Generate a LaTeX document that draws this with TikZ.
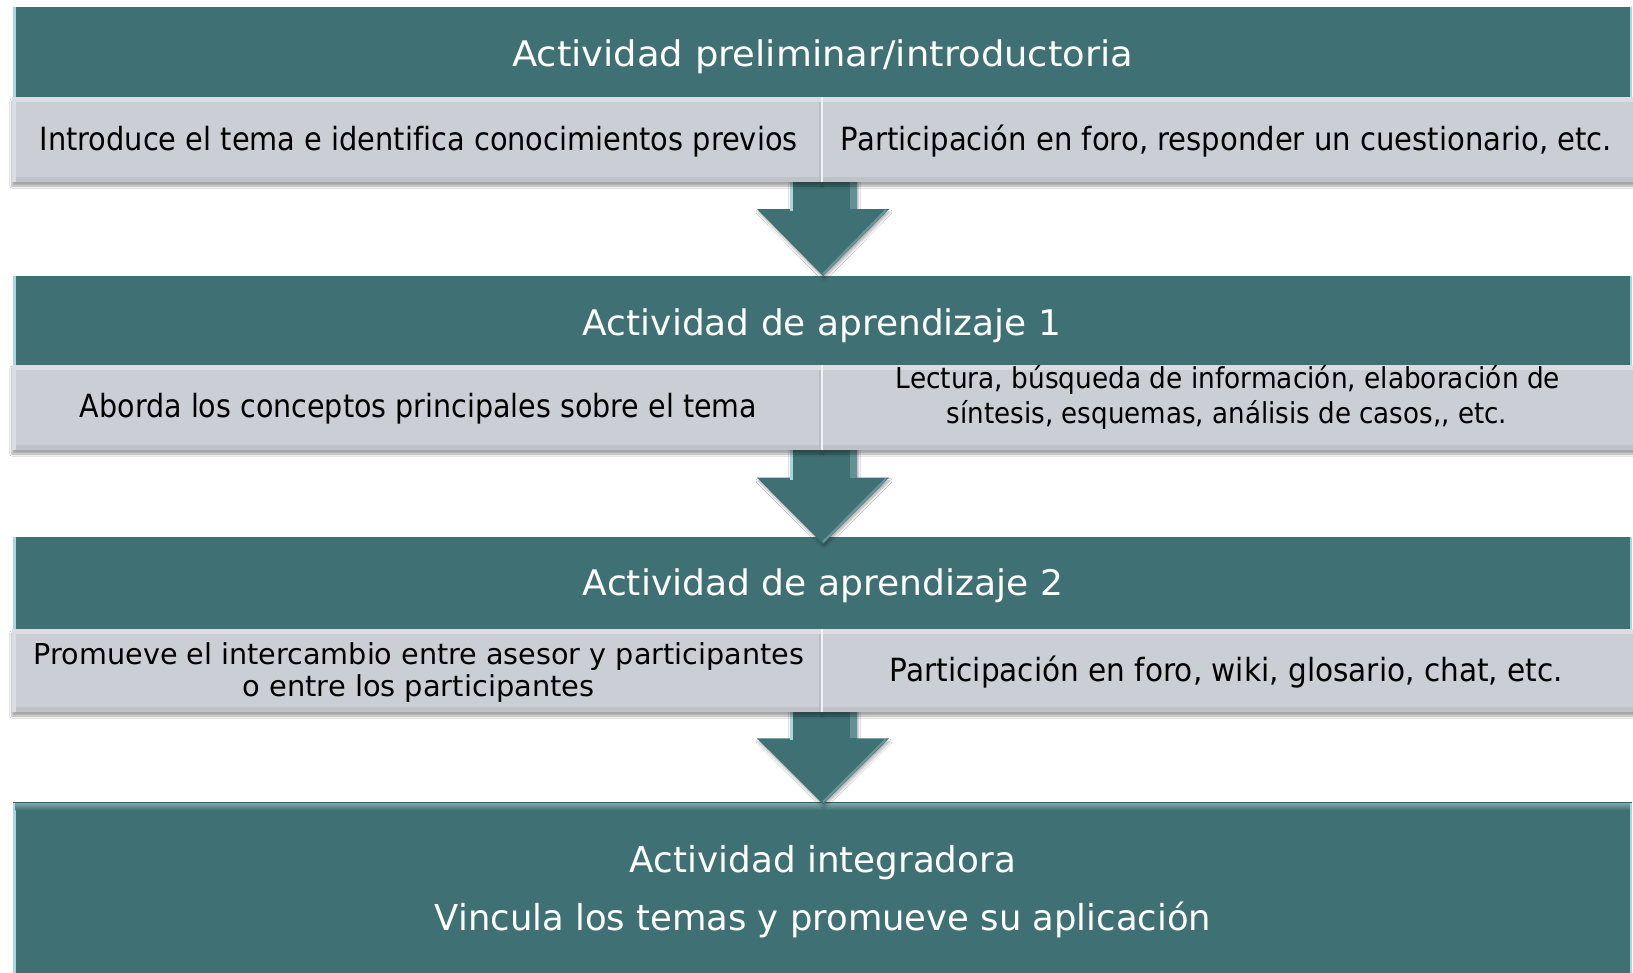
\documentclass[tikz,border=0pt]{standalone}
\usepackage{fontspec}
\setmainfont{DejaVu Sans}[Ligatures={NoCommon}]
\usepackage{graphicx}
\usetikzlibrary{shadows.blur}
\definecolor{tealc}{HTML}{3F7174}
\definecolor{grayc}{HTML}{CBCFD5}
\definecolor{grayhi}{HTML}{DADDE2}
\definecolor{graylo}{HTML}{B8BCC2}
\definecolor{tealhi}{HTML}{A8D8DC}
\definecolor{teallt}{HTML}{86AFB2}
\definecolor{tealdk}{HTML}{35605F}
\newcommand\fittext[3]{\resizebox{#1pt}{#2pt}{\vphantom{H}\smash{#3}}}
\begin{document}
\begin{tikzpicture}[x=1pt,y=-1pt,
  band/.style={fill=tealc},
  cell/.style={fill=grayc, blur shadow={shadow xshift=0pt, shadow yshift=-4pt, shadow blur steps=6, shadow opacity=35}},
  arrowshape/.style={fill=tealc, blur shadow={shadow xshift=1pt, shadow yshift=-3pt, shadow blur steps=6, shadow opacity=30}},
  hdr/.style={text=white, inner sep=0pt, anchor=center},
  txt/.style={text=black, inner sep=0pt, anchor=center},
  divider/.style={draw=white!70!grayc, line width=2pt}]
\clip (0,0) rectangle (1633,972);
\fill[white] (0,0) rectangle (1633,972);

% teal bands
\foreach \t/\b in {7/97, 276/364.5, 537/629, 802/990}{
  \fill[band] (13,\t) rectangle (1632,\b);
  \fill[tealhi] (13,\t) rectangle (15.5,\b);
  \fill[tealhi] (1629.5,\t) rectangle (1632,\b);
}
\shade[top color=teallt, bottom color=tealc] (15.5,802) rectangle (1629.5,810);
\draw[tealdk, line width=1pt] (13,802) -- (1632,802);

% arrows
\foreach \s/\h/\p in {175/209/276, 443/477.7/544, 705/738.3/804}{
  \fill[arrowshape] (790,\s) -- (857,\s) -- (857,\h) -- (889,\h) -- (823,\p) -- (757,\h) -- (790,\h) -- cycle;
  \fill[tealhi] (790,\s) rectangle (793,\h+2);
  \fill[teallt, opacity=0.5] (850,\s) rectangle (857,\h);
  \draw[teallt, line width=2pt, opacity=0.6] (886,\h+1) -- (823,\p-2);
}

% gray rows
\foreach \t/\b in {97/182, 364.5/450, 629/712}{
  \fill[cell] (12,\t) rectangle (822,\b);
  \fill[cell] (822,\t) rectangle (1645,\b);
  \fill[grayhi] (12,\t) rectangle (1645,\t+5);
  \fill[graylo, opacity=0.6] (12,\b-5) rectangle (1645,\b);
  \fill[grayhi] (12,\t) rectangle (16,\b);
  \draw[divider] (822,\t) -- (822,\b);
}

% texts
\node[hdr] (t1) at (822.6,54) {\fittext{621}{25.7}{Actividad preliminar/introductoria}};
\node[txt] (t1l) at (418.6,138.5) {\fittext{758}{23.3}{Introduce el tema e identifica conocimientos previos}};
\node[txt] (t1r) at (1226.5,138.5) {\fittext{771}{23.3}{Participación en foro, responder un cuestionario, etc.}};
\node[hdr] (t2) at (822,322.5) {\fittext{478}{25.7}{Actividad de aprendizaje 1}};
\node[txt] (t2l) at (418.5,406) {\fittext{677}{23.3}{Aborda los conceptos principales sobre el tema}};
\node[txt] (t2r1) at (1228,377.5) {\fittext{664}{21}{Lectura, búsqueda de información, elaboración de}};
\node[txt] (t2r2) at (1227,413) {\fittext{560}{21}{síntesis, esquemas, análisis de casos,{},{} etc.}};
\node[hdr] (t3) at (823,583) {\fittext{480}{25.7}{Actividad de aprendizaje 2}};
\node[txt] (t3l1) at (419,654) {\fittext{770}{21}{Promueve el intercambio entre asesor y participantes}};
\node[txt] (t3l2) at (418.6,686) {\fittext{352}{21}{o entre los participantes}};
\node[txt] (t3r) at (1226.5,669.5) {\fittext{673}{23.3}{Participación en foro, wiki, glosario, chat, etc.}};
\node[hdr] (t4a) at (823,859.7) {\fittext{386}{26}{Actividad integradora}};
\node[hdr] (t4b) at (823,917) {\fittext{776}{26}{Vincula los temas y promueve su aplicación}};
\end{tikzpicture}
\end{document}
